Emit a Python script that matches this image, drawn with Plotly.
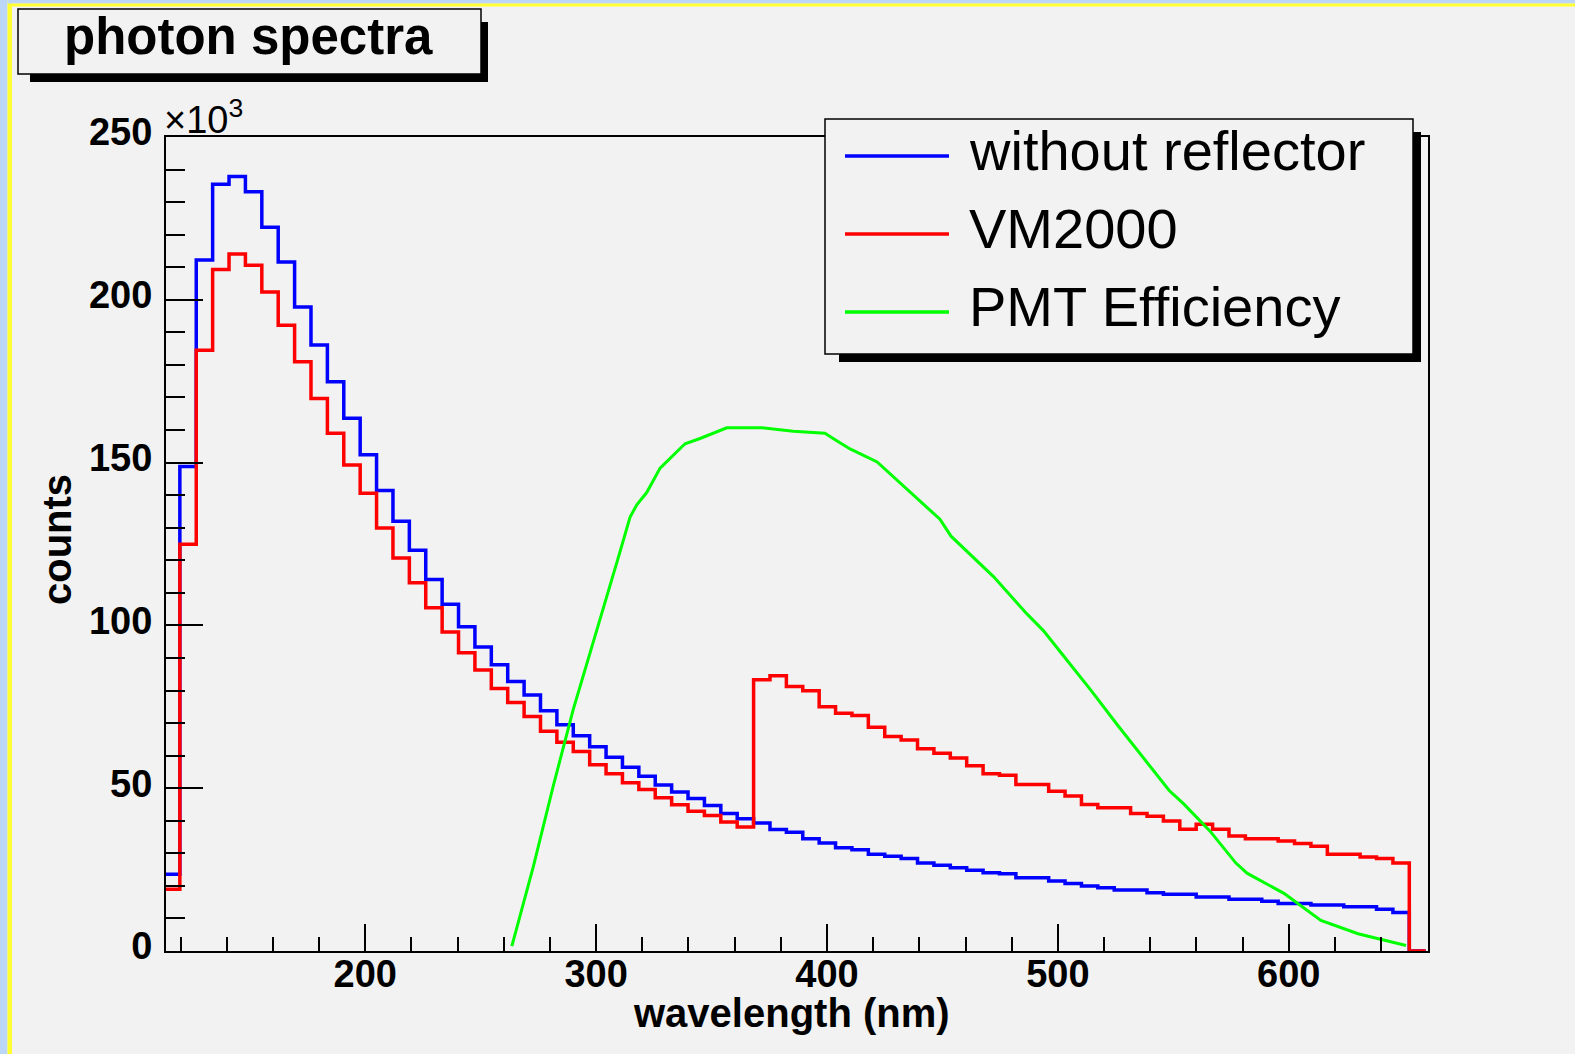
import numpy as np
import plotly.graph_objects as go

# histogram binning (wavelength, nm)
bin_lo = 112.6
bin_width = 7.1

# counts per bin, in units of 10^3
without_reflector = [
    23.6, 148.8, 212.2, 235.5, 237.9, 233.2, 222.3, 211.6, 197.8, 186.1,
    174.8, 163.6, 152.4, 141.4, 132.0, 123.1, 114.1, 106.5, 99.6, 93.4,
    87.9, 82.8, 78.6, 73.8, 69.5, 66.1, 62.7, 59.5, 56.4, 53.7,
    51.0, 48.8, 46.8, 44.7, 42.2, 40.6, 39.3, 37.3, 36.5, 34.5,
    33.2, 31.7, 31.1, 29.7, 29.1, 28.4, 27.0, 26.3, 25.6, 24.8,
    24.0, 23.7, 22.5, 22.5, 21.5, 20.7, 20.0, 19.4, 18.7, 18.7,
    17.9, 17.4, 17.4, 16.6, 16.6, 15.9, 15.9, 15.3, 14.6, 14.6,
    14.1, 14.1, 13.6, 13.6, 12.8, 11.8, 0.0,
]
vm2000 = [
    19.0, 124.9, 184.5, 209.3, 214.1, 210.6, 202.4, 192.2, 181.0, 169.7,
    159.0, 149.3, 140.6, 129.9, 120.7, 113.1, 105.4, 98.0, 91.6, 86.3,
    80.6, 76.3, 72.0, 67.5, 64.1, 61.3, 57.2, 54.4, 51.7, 49.6,
    47.1, 44.9, 42.9, 41.6, 39.6, 38.1, 83.3, 84.5, 81.2, 79.9,
    75.0, 73.0, 72.3, 68.7, 65.9, 64.8, 62.1, 60.7, 59.3, 56.9,
    54.4, 54.0, 51.1, 51.1, 49.1, 47.6, 45.0, 44.0, 44.0, 42.2,
    41.4, 39.9, 37.4, 38.9, 37.4, 35.3, 34.5, 34.5, 33.8, 33.0,
    32.2, 29.7, 29.7, 28.9, 28.4, 27.0, 0.0,
]

# PMT efficiency, scaled onto the counts axis (10^3)
pmt_wavelength = [
    263.5, 272.8, 281.4, 290.1, 297.3, 304.6, 310.3, 314.7, 317.6, 321.9,
    327.7, 338.5, 345.0, 356.6, 371.7, 385.4, 399.1, 404.2, 410.0, 421.7,
    431.3, 448.9, 453.7, 472.1, 485.8, 493.7, 501.8, 514.6, 525.8, 538.6,
    548.2, 554.6, 565.9, 577.1, 581.9, 597.9, 613.9, 630.0, 650.8,
]
pmt_efficiency = [
    1.5, 25.9, 50.6, 74.2, 91.4, 108.6, 122.5, 133.3, 137.0, 140.8,
    148.3, 155.8, 157.4, 160.7, 160.7, 159.6, 159.0, 156.7, 154.2, 150.2,
    144.0, 132.6, 127.4, 115.0, 104.1, 98.4, 91.2, 79.8, 69.4, 58.1,
    49.3, 45.1, 36.8, 27.0, 23.9, 17.7, 9.4, 5.3, 1.7,
]

series_names = ["without reflector", "VM2000", "PMT Efficiency"]
series_colors = ["#0000ff", "#ff0000", "#00ff00"]

x_range = [113.7, 660.3]
y_range = [0, 250]
x_ticks = [200, 300, 400, 500, 600]
y_ticks = [0, 50, 100, 150, 200, 250]

# canvas geometry (pixels)
W, H = 1575, 1054
L, R, T, B = 166, 147, 137, 103
PW, PH = W - L - R, H - T - B
BG = "#f2f2f2"
FONT = "Liberation Sans"


def px(x):
    return (x - L) / PW


def py(y):
    return (H - B - y) / PH


def rect(x0, y0, x1, y1, fill, line_w=0, line_c="black"):
    return dict(type="rect", xref="paper", yref="paper",
                x0=px(x0), x1=px(x1), y0=py(y1), y1=py(y0),
                fillcolor=fill, line=dict(width=line_w, color=line_c),
                layer="above")


def step_xy(counts):
    edges = bin_lo + bin_width * np.arange(len(counts) + 1)
    return edges, list(counts) + [counts[-1]]


fig = go.Figure()

for counts, name, color in zip([without_reflector, vm2000], series_names, series_colors):
    xs, ys = step_xy(counts)
    fig.add_trace(go.Scatter(x=xs, y=ys, mode="lines", name=name,
                             line=dict(color=color, width=3.5, shape="hv")))

fig.add_trace(go.Scatter(x=pmt_wavelength, y=pmt_efficiency, mode="lines",
                         name=series_names[2],
                         line=dict(color=series_colors[2], width=3)))

shapes = [
    # window border
    rect(0, 0, 7.5, H, "#bcd6f7"),
    rect(7.5, 0, 12, H, "#ffff33"),
    rect(7.5, 0, W, 3.5, "#bcd6f7"),
    rect(12, 3.5, W, 6.5, "#ffff33"),
    # title box
    rect(30, 22, 488, 82, "black"),
    rect(18, 9, 481, 74, BG, 1.5),
    # legend box
    rect(839, 132, 1421, 362, "black"),
    rect(825, 119, 1413, 354, BG, 1.5),
]
legend_y = [156, 234, 312]
for yy, color in zip(legend_y, series_colors):
    shapes.append(dict(type="line", xref="paper", yref="paper",
                       x0=px(845), x1=px(949), y0=py(yy), y1=py(yy),
                       line=dict(color=color, width=3.5), layer="above"))

annotations = [
    dict(text="photon spectra", x=px(248), y=py(37), xref="paper", yref="paper",
         showarrow=False, xanchor="center", yanchor="middle",
         font=dict(family=FONT, size=51, color="black", weight="bold")),
    dict(text="×10<sup>3</sup>", x=px(162), y=py(117), xref="paper", yref="paper",
         showarrow=False, xanchor="left", yanchor="middle",
         font=dict(family=FONT, size=38, color="black")),
    dict(text="wavelength (nm)", x=px(791), y=py(1013), xref="paper", yref="paper",
         showarrow=False, xanchor="center", yanchor="middle",
         font=dict(family=FONT, size=40, color="black", weight="bold")),
    dict(text="counts", x=px(57), y=py(540), xref="paper", yref="paper",
         showarrow=False, xanchor="center", yanchor="middle", textangle=-90,
         font=dict(family=FONT, size=40, color="black", weight="bold")),
]
for yy, name in zip(legend_y, series_names):
    annotations.append(dict(text=name, x=px(967), y=py(yy - 6), xref="paper", yref="paper",
                            showarrow=False, xanchor="left", yanchor="middle",
                            font=dict(family=FONT, size=56, color="black")))

tick_font = dict(family=FONT, size=38, color="black", weight="bold")

fig.update_layout(
    width=W, height=H,
    margin=dict(l=L, r=R, t=T, b=B, pad=0),
    paper_bgcolor=BG, plot_bgcolor=BG,
    showlegend=False,
    shapes=shapes,
    annotations=annotations,
    xaxis=dict(range=x_range, tickvals=x_ticks, ticks="inside", ticklen=27,
               tickwidth=2, tickcolor="black", showline=True, linecolor="black",
               linewidth=2, mirror=True, showgrid=False, zeroline=False,
               tickfont=tick_font, ticklabelstandoff=-12,
               minor=dict(ticks="inside", ticklen=14, tickwidth=2,
                          tickcolor="black", dtick=20, tick0=0, showgrid=False)),
    yaxis=dict(range=y_range, tickvals=y_ticks, ticks="inside", ticklen=37,
               tickwidth=2, tickcolor="black", showline=True, linecolor="black",
               linewidth=2, mirror=True, showgrid=False, zeroline=False,
               tickfont=tick_font, ticklabelshift=-5, ticklabelstandoff=4,
               minor=dict(ticks="inside", ticklen=19, tickwidth=2,
                          tickcolor="black", dtick=10, tick0=0, showgrid=False)),
)

# drop the default page margin so the figure sits at the window's corner
fig.write_html("out.html", config={"displayModeBar": False},
               post_script="document.body.style.margin='0';")
